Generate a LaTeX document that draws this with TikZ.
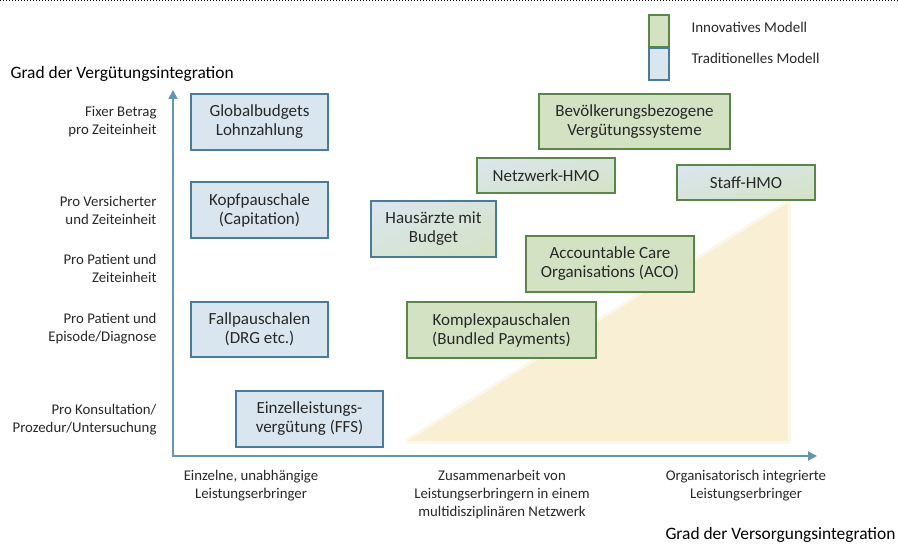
\documentclass[tikz,border=0pt]{standalone}
\usepackage{fontspec}
\setmainfont{Carlito}
\usetikzlibrary{arrows.meta,shadings}
\definecolor{bluefill}{RGB}{218,230,239}
\definecolor{blueline}{RGB}{74,124,154}
\definecolor{greenfill}{RGB}{212,226,196}
\definecolor{greenline}{RGB}{90,135,72}
\definecolor{mixfill}{RGB}{215,228,218}
\definecolor{axisc}{RGB}{100,150,178}
\definecolor{tric}{RGB}{249,239,212}
\definecolor{txt}{RGB}{40,40,40}
\tikzset{
  box/.style={draw, line width=1.6pt, inner sep=0pt, align=center, text=txt,
    font=\fontsize{17}{19}\selectfont},
  tradbox/.style={box, fill=bluefill, draw=blueline},
  innobox/.style={box, fill=greenfill, draw=greenline},
  mixbox/.style={box, upper left=bluefill, lower right=greenfill, upper right=mixfill, lower left=mixfill},
  lab/.style={text=txt, align=right, anchor=east, font=\fontsize{14.8}{18}\selectfont},
  blab/.style={text=txt, align=center, anchor=north, font=\fontsize{14.8}{18}\selectfont},
  legt/.style={anchor=west, text=txt, font=\fontsize{15}{18}\selectfont},
  ttl/.style={text=black, font=\fontsize{17.4}{20}\selectfont},
  axisline/.style={draw=axisc, line width=1.8pt, {Triangle[length=9pt,width=9pt]}-{Triangle[length=9pt,width=9pt]}}
}
\begin{document}
\begin{tikzpicture}[x=1pt,y=-1pt]
\useasboundingbox (0,0) rectangle (898,545);
\draw[dotted, line width=1pt, black] (0,0.5) -- (898,0.5);

% triangle
\fill[tric, draw=tric, draw opacity=0.5, line width=6pt, line join=round] (408,441) -- (788,441) -- (788,203) -- cycle;

% axes
\coordinate (ytop) at (173,90);
\coordinate (orig) at (173,456);
\coordinate (xend) at (817,456);
\draw[axisline] (ytop) -- (orig) -- (xend);

% legend
\node[draw=greenline, fill=greenfill, line width=1.6pt, minimum width=20pt, minimum height=32pt, inner sep=0pt] (lg) at (659,31) {};
\node[draw=blueline, fill=bluefill, line width=1.6pt, minimum width=20pt, minimum height=32pt, inner sep=0pt] (lb) at (659,64) {};
\node[legt] (lgt) at (688,27) {Innovatives Modell};
\node[legt] (lbt) at (688,58) {Traditionelles Modell};

% titles
\node[ttl, anchor=west] (ytitle) at (7,74) {Grad der Vergütungsintegration};
\node[ttl, anchor=east] (xtitle) at (899,535) {Grad der Versorgungsintegration};

% left labels
\node[lab] (l1) at (160,122) {Fixer Betrag\\pro Zeiteinheit};
\node[lab] (l2) at (160,210) {Pro Versicherter\\und Zeiteinheit};
\node[lab] (l3) at (160,268) {Pro Patient und\\Zeiteinheit};
\node[lab] (l4) at (160,329) {Pro Patient und\\Episode/Diagnose};
\node[lab] (l5) at (160,420) {Pro Konsultation/\\Prozedur/Untersuchung};

% bottom labels
\node[blab] (b1) at (251,467) {Einzelne, unabhängige\\Leistungserbringer};
\node[blab] (b2) at (502,467) {Zusammenarbeit von\\Leistungserbringern in einem\\multidisziplinären Netzwerk};
\node[blab] (b3) at (746,467) {Organisatorisch integrierte\\Leistungserbringer};

% traditional boxes
\node[tradbox, minimum width=137pt, minimum height=56pt] (glob) at (259.5,122) {Globalbudgets\\Lohnzahlung};
\node[tradbox, minimum width=137pt, minimum height=56pt] (kopf) at (259.5,210) {Kopfpauschale\\(Capitation)};
\node[tradbox, minimum width=137pt, minimum height=55pt] (fall) at (259.5,329.5) {Fallpauschalen\\(DRG etc.)};
\node[tradbox, minimum width=147pt, minimum height=56pt] (ffs) at (309.5,419) {Einzelleistungs-\\vergütung (FFS)};

% mixed boxes
\node[mixbox, draw=blueline, minimum width=125pt, minimum height=56pt] (haus) at (433.5,229) {Hausärzte mit\\Budget};
\node[mixbox, draw=greenline, minimum width=138pt, minimum height=35pt] (netz) at (546,175.5) {Netzwerk-HMO};
\node[mixbox, draw=greenline, minimum width=138pt, minimum height=35pt] (staff) at (746,182.5) {Staff-HMO};

% innovative boxes
\node[innobox, minimum width=191pt, minimum height=55pt] (bev) at (634.5,121.5) {Bevölkerungsbezogene\\Vergütungssysteme};
\node[innobox, minimum width=168pt, minimum height=56pt] (aco) at (610,264) {Accountable Care\\Organisations (ACO)};
\node[innobox, minimum width=189pt, minimum height=56pt] (komp) at (501.5,330) {Komplexpauschalen\\(Bundled Payments)};
\end{tikzpicture}
\end{document}
